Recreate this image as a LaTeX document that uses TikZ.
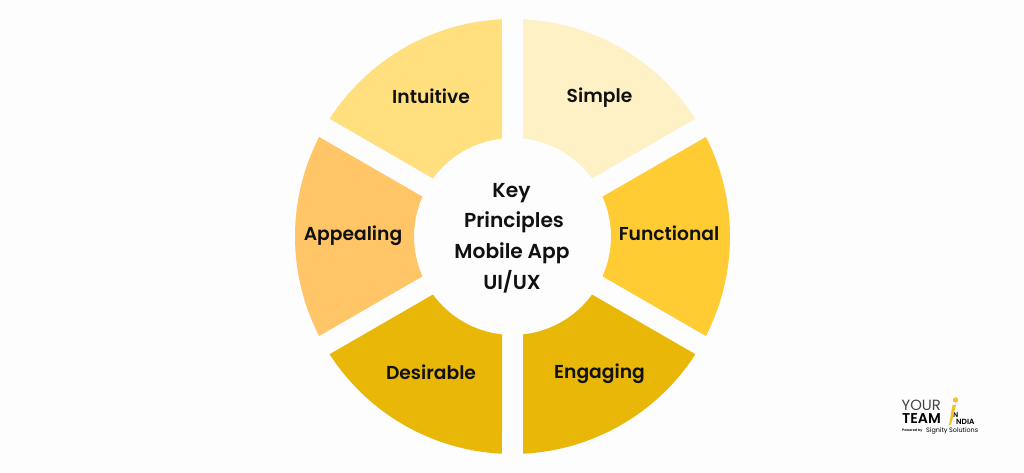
\documentclass[tikz,border=0pt]{standalone}
\usepackage{fontspec}
\setmainfont{Poppins}[UprightFont=* Medium,BoldFont=* SemiBold]
\newfontfamily\logolight{Poppins}
\newfontfamily\logobold{Poppins}[UprightFont=* SemiBold]
\definecolor{bgpaper}{HTML}{FDFDFD}
\definecolor{simplefill}{HTML}{FFF1C6}
\definecolor{functionalfill}{HTML}{FFCC33}
\definecolor{engagingfill}{HTML}{E8B708}
\definecolor{appealingfill}{HTML}{FFC566}
\definecolor{intuitivefill}{HTML}{FFDF7E}
\definecolor{inkdark}{HTML}{111111}
\definecolor{logogrey}{HTML}{444444}
\definecolor{logoyellow}{HTML}{F5C02C}
% One ring segment: #1 = fill, #2 = central angle
\newcommand{\ringsegment}[2]{%
  \fill[#1] ($(hub)+({#2+30-2.77}:217.5pt)$)
    arc[start angle={#2+30-2.77},end angle={#2-30+2.77},radius=217.5pt]
    -- ($(hub)+({#2-30+6.12}:98.5pt)$)
    arc[start angle={#2-30+6.12},end angle={#2+30-6.12},radius=98.5pt]
    -- cycle;}
\usetikzlibrary{calc}
\tikzset{
  seglabel/.style={font=\bfseries\fontsize{18.7}{22}\selectfont,text=inkdark,inner sep=0pt,anchor=center},
  hublabel/.style={font=\bfseries\fontsize{20.2}{24}\selectfont,text=inkdark,inner sep=0pt,anchor=center},
  logotext/.style={inner sep=0pt,anchor=base west,text height=0.72em,text depth=0pt},
}
\begin{document}
\begin{tikzpicture}[x=1pt,y=1pt]
  \useasboundingbox (0,0) rectangle (1024,473);
  \fill[bgpaper] (0,0) rectangle (1024,473);
  \coordinate (hub) at (512.5,236.5);
  % ring of six segments
  \ringsegment{simplefill}{60}
  \ringsegment{functionalfill}{0}
  \ringsegment{engagingfill}{-60}
  \ringsegment{engagingfill}{-120}
  \ringsegment{appealingfill}{180}
  \ringsegment{intuitivefill}{120}
  % segment labels
  \node[seglabel] (simple) at (599.5,375) {Simple};
  \node[seglabel] (functional) at (669,239.5) {Functional};
  \node[seglabel] (engaging) at (599.5,99) {Engaging};
  \node[seglabel] (desirable) at (431,101) {Desirable};
  \node[seglabel] (appealing) at (353,237.5) {Appealing};
  \node[seglabel] (intuitive) at (431,377) {Intuitive};
  % centre title
  \node[hublabel] (key) at (511.5,280) {Key};
  \node[hublabel] (principles) at (514,250.5) {Principles};
  \node[hublabel] (mobile) at (512,219.5) {Mobile App};
  \node[hublabel] (uiux) at (512,191) {UI/UX};
  % company mark
  \node[logotext,font=\logolight\fontsize{14.8}{16}\selectfont,text=logogrey] (your) at (901.5,62) {YOUR};
  \node[logotext,font=\logobold\fontsize{14.2}{16}\selectfont,text=black] (team) at (902,49.5) {TEAM};
  \node[logotext,font=\logobold\fontsize{7}{8}\selectfont,text=black] (letter) at (953,55) {N};
  \node[logotext,font=\logobold\fontsize{7.5}{8}\selectfont,text=black] (india) at (956,48) {NDIA};
  \node[logotext,font=\logolight\fontsize{6.4}{7}\selectfont,text=black] (signity) at (926,40) {Signity Solutions};
  \node[logotext,font=\logobold\fontsize{3.4}{4}\selectfont,text=black] (powered) at (902,41) {Powered by};
  \fill[logoyellow] (955.5,73) circle[radius=2.7pt];
  \fill[logoyellow] (952.5,68) -- (956,68) -- (951,48) -- (949,48) -- cycle;
\end{tikzpicture}
\end{document}
